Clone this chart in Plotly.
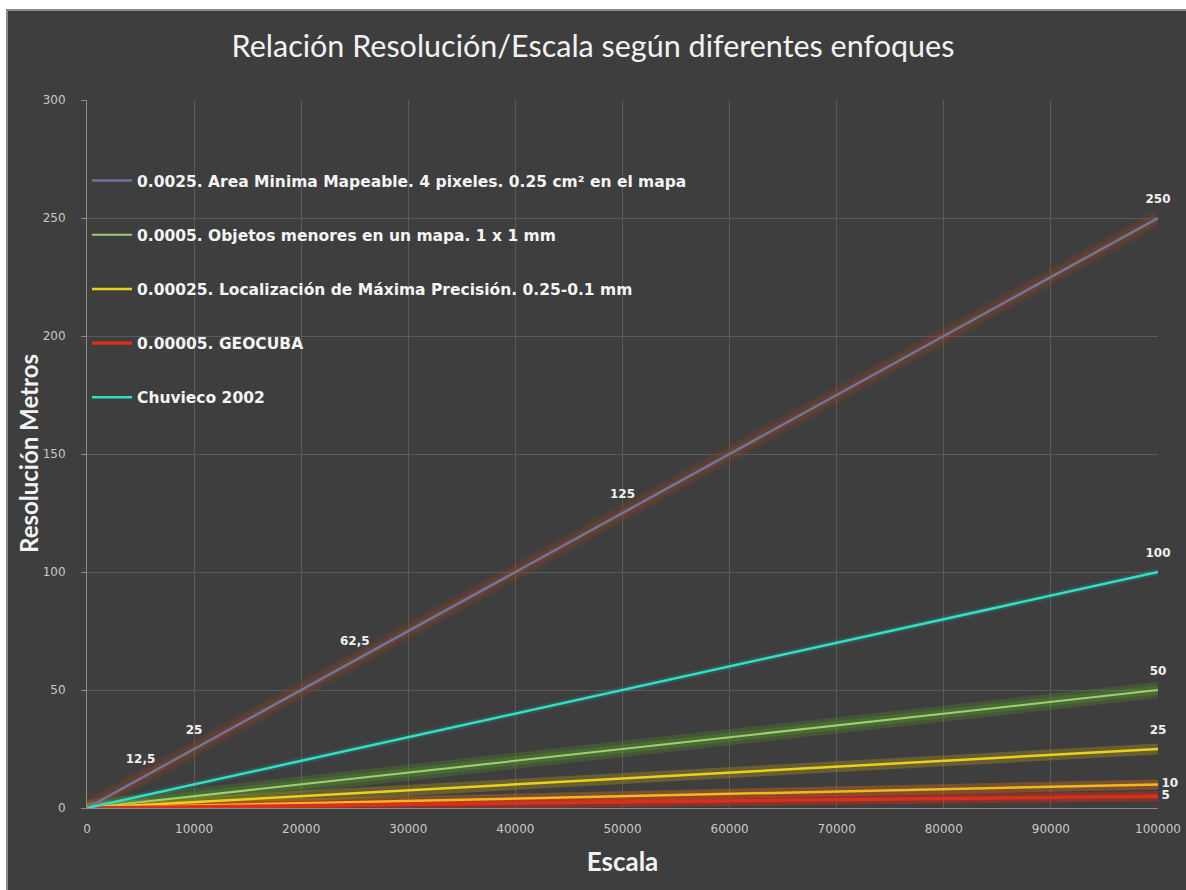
import plotly.graph_objects as go

escala = [0, 2000, 5000, 10000, 25000, 50000, 100000]
area_minima = [0, 5, 12.5, 25, 62.5, 125, 250]
objetos = [0, 1, 2.5, 5, 12.5, 25, 50]
localizacion = [0, 0.5, 1.25, 2.5, 6.25, 12.5, 25]
localizacion_01 = [0, 0.2, 0.5, 1, 2.5, 5, 10]
geocuba = [0, 0.1, 0.25, 0.5, 1.25, 2.5, 5]
chuvieco = [0, 2, 5, 10, 25, 50, 100]

area_labels = ["", "", "12,5", "25", "62,5", "125", "250"]
objetos_labels = ["", "", "", "", "", "", "50"]
loc_labels = ["", "", "", "", "", "", "25"]
loc01_labels = ["", "", "", "", "", "", "10"]
geocuba_labels = ["", "", "", "", "", "", "5"]
chuvieco_labels = ["", "", "", "", "", "", "100"]

names = [
    "0.0025. Area Minima Mapeable. 4 pixeles. 0.25 cm² en el mapa",
    "0.0005. Objetos menores en un mapa. 1 x 1 mm",
    "0.00025. Localización de Máxima Precisión. 0.25-0.1 mm",
    "0.00005. GEOCUBA",
    "Chuvieco 2002",
]

BG = "#3e3e3e"
label_font = dict(family="DejaVu Sans", size=12, color="#f0f0f0", weight="bold")

fig = go.Figure()

# glow layers
glows = [
    (area_minima, "rgba(150,70,30,0.22)", 16),
    (area_minima, "rgba(150,70,30,0.25)", 9),
    (objetos, "rgba(90,170,40,0.22)", 16),
    (objetos, "rgba(90,170,40,0.25)", 9),
    (localizacion, "rgba(200,170,20,0.30)", 11),
    (localizacion_01, "rgba(230,120,20,0.35)", 10),
    (geocuba, "rgba(220,40,20,0.45)", 10),
    (chuvieco, "rgba(40,200,180,0.15)", 7),
]
for ys, col, w in glows:
    fig.add_trace(go.Scatter(x=escala, y=ys, mode="lines", showlegend=False,
                             hoverinfo="skip", line=dict(color=col, width=w)))

lines = [
    (area_minima, names[0], "a", "#6f74a0", 2.5, True),
    (objetos, names[1], "b", "#9ed070", 2, True),
    (localizacion, names[2], "c", "#ead21c", 2.5, True),
    (localizacion_01, None, "c", "#f7b61e", 2.5, False),
    (geocuba, names[3], "d", "#d8301c", 3.5, True),
    (chuvieco, names[4], "e", "#2fe0c6", 2.5, True),
]
for ys, nm, grp, col, w, show in lines:
    fig.add_trace(go.Scatter(x=escala, y=ys, mode="lines", name=nm, legendgroup=grp,
                             showlegend=show, line=dict(color=col, width=w)))

# data labels
label_sets = [
    (area_minima, area_labels, "top center"),
    (objetos, objetos_labels, "top center"),
    (localizacion, loc_labels, "top center"),
    (localizacion_01, loc01_labels, "middle right"),
    (geocuba, geocuba_labels, "middle right"),
    (chuvieco, chuvieco_labels, "top center"),
]
for ys, labs, pos in label_sets:
    fig.add_trace(go.Scatter(x=escala, y=ys, mode="markers+text", text=labs,
                             textposition=pos, textfont=label_font,
                             marker=dict(size=18 if pos == "top center" else 4,
                                         color="rgba(0,0,0,0)"),
                             showlegend=False, hoverinfo="skip", cliponaxis=False))

L, R, T, B = 87, 28, 100, 82
W, H = 1186, 890
pw, ph = W - L - R, H - T - B

def px_to_paper_x(px):
    return (px - L) / pw

def px_to_paper_y(py):
    return (H - B - py) / ph

fig.add_shape(type="rect", xref="paper", yref="paper", layer="below",
              x0=px_to_paper_x(7), x1=px_to_paper_x(W + 5),
              y0=px_to_paper_y(H + 5), y1=px_to_paper_y(10),
              fillcolor=BG, line=dict(color="#8c8c8c", width=2))

fig.add_annotation(text="<b>Resolución Metros</b>", xref="paper", yref="paper",
                   x=px_to_paper_x(28), y=px_to_paper_y(454), textangle=-90,
                   showarrow=False, xanchor="center", yanchor="middle",
                   font=dict(family="Lato", size=24, color="#f2f2f2"))

fig.update_layout(
    width=W, height=H,
    margin=dict(l=L, r=R, t=T, b=B),
    paper_bgcolor="white",
    plot_bgcolor="rgba(0,0,0,0)",
    title=dict(text="Relación Resolución/Escala según diferentes enfoques",
               x=0.5, xref="container", xanchor="center", y=1 - 46 / H, yanchor="middle",
               font=dict(family="Lato", size=30.5, color="#f2f2f2")),
    legend=dict(x=0.0, y=px_to_paper_y(164), xanchor="left", yanchor="top",
                bgcolor="rgba(0,0,0,0)", tracegroupgap=31, itemwidth=40,
                font=dict(family="DejaVu Sans", size=15.5, color="#f4f4f4", weight="bold")),
    showlegend=True,
)
fig.update_xaxes(range=[0, 100000], tickvals=list(range(0, 100001, 10000)),
                 ticktext=[str(v) for v in range(0, 100001, 10000)],
                 showgrid=True, gridcolor="#5a5a5a", gridwidth=1, automargin=False,
                 zeroline=False, showline=True, linecolor="#8a8a8a",
                 ticks="", ticklabelstandoff=10,
                 tickfont=dict(family="DejaVu Sans", size=12, color="#c8c8c8"),
                 title=dict(text="<b>Escala</b>", standoff=17,
                            font=dict(family="Lato", size=26, color="#f2f2f2")))
fig.update_yaxes(range=[0, 300], tickvals=list(range(0, 301, 50)),
                 showgrid=True, gridcolor="#5a5a5a", gridwidth=1, automargin=False,
                 zeroline=False, showline=True, linecolor="#8a8a8a",
                 ticks="outside", ticklen=5, tickcolor="#8a8a8a", ticklabelstandoff=13,
                 tickfont=dict(family="DejaVu Sans", size=12, color="#c8c8c8"))

fig.write_html("out.html")
